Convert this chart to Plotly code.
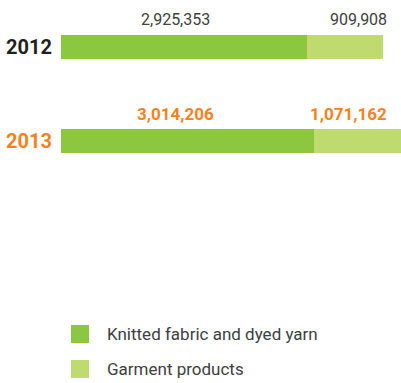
import plotly.graph_objects as go

years = ["2012", "2013"]
knitted = [2925353, 3014206]
garment = [909908, 1071162]
series_names = ["Knitted fabric and dyed yarn", "Garment products"]
colors = ["#8DC63F", "#BFDA6E"]
year_colors = ["#231F20", "#F58220"]
label_colors = ["#404040", "#F58220"]

W, H = 401, 383
L = 61
xmax = 340 / 83.94e-6

fig = go.Figure()
ypos = list(range(len(years)))
for vals, name, col in zip([knitted, garment], series_names, colors):
    fig.add_trace(go.Bar(y=ypos, x=vals, orientation="h", name=name,
                         marker=dict(color=col, line=dict(width=0)),
                         width=0.255, showlegend=False, hoverinfo="skip"))

ann = []
for i, y in enumerate(years):
    bold = i == 1
    fmt = (lambda s: f"<b>{s}</b>") if bold else (lambda s: s)
    ann.append(dict(x=(175 - L) / 340, xref="paper", y=i - 0.29, yref="y",
                    text=fmt(f"{knitted[i]:,}"), showarrow=False, xanchor="center",
                    font=dict(family="Roboto", size=17 if bold else 16, color=label_colors[i])))
    ann.append(dict(x=(389 - L) / 340, xref="paper", y=i - 0.29, yref="y",
                    text=fmt(f"{garment[i]:,}"), showarrow=False, xanchor="right",
                    font=dict(family="Roboto", size=17 if bold else 16, color=label_colors[i])))

# legend (manual)
shapes = []
leg_y = [334, 369]
for name, col, yc in zip(series_names, colors, leg_y):
    shapes.append(dict(type="rect", xref="paper", yref="paper",
                       x0=(71 - L) / 340, x1=(89 - L) / 340,
                       y0=1 - (yc + 9) / H, y1=1 - (yc - 9) / H,
                       fillcolor=col, line=dict(width=0)))
    ann.append(dict(x=(105 - L) / 340, xref="paper", y=1 - yc / H, yref="paper",
                    text=name, showarrow=False, xanchor="left", yanchor="middle",
                    font=dict(family="Roboto", size=17, color="#404040")))

ticktext = [f'<span style="color:{c}"><b>{y}</b></span>' for y, c in zip(years, year_colors)]

fig.update_layout(
    width=W, height=H, margin=dict(l=L, r=0, t=0, b=0),
    barmode="stack", bargap=0,
    plot_bgcolor="white", paper_bgcolor="white",
    xaxis=dict(range=[0, xmax], visible=False, fixedrange=True),
    yaxis=dict(range=[-0.5 + 383 / 94, -0.5], tickvals=ypos, ticktext=ticktext,
               showgrid=False, zeroline=False, ticks="", showline=False,
               ticklabelstandoff=8,
               tickfont=dict(family="Roboto", size=20)),
    shapes=shapes, annotations=ann, showlegend=False,
)

fig.write_html("out.html")
